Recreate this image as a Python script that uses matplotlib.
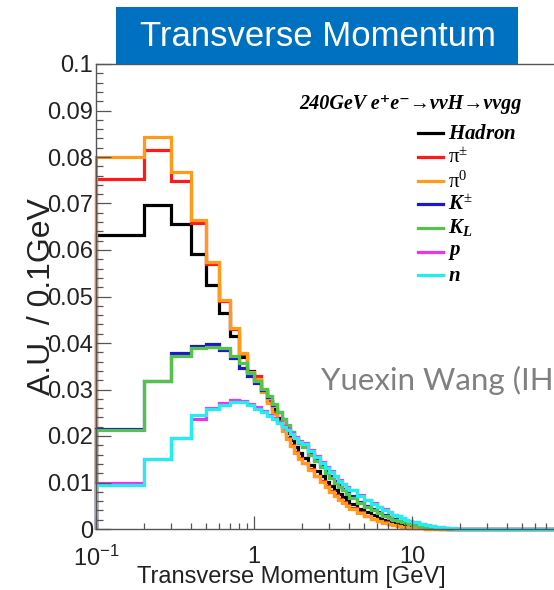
import numpy as np
import matplotlib
matplotlib.use("Agg")
import matplotlib.pyplot as plt
from matplotlib.lines import Line2D
from matplotlib.patches import Rectangle
from matplotlib import ticker

plt.rcParams['mathtext.fontset'] = 'custom'
plt.rcParams['mathtext.rm'] = 'Liberation Serif'
plt.rcParams['mathtext.it'] = 'Liberation Serif:italic:bold'
plt.rcParams['mathtext.bf'] = 'Liberation Serif:bold'
plt.rcParams['mathtext.sf'] = 'Liberation Sans'

# ---------------- data ----------------
bin_edges = np.round(np.concatenate([
    np.arange(0.1, 2.0001, 0.1),
    np.arange(2.2, 4.0001, 0.2),
    np.arange(4.5, 10.0001, 0.5),
    np.arange(11, 20.0001, 1.0),
    np.arange(30, 100.0001, 10.0),
]), 3)

hadron = [0.0633, 0.0696, 0.0655, 0.0592, 0.0525, 0.0464, 0.0414, 0.0370, 0.0340, 0.0318,
          0.0297, 0.0276, 0.0257, 0.0239, 0.0222, 0.0206, 0.0191, 0.0177, 0.0164,
          0.0153, 0.0138, 0.0125, 0.0113, 0.0102, 0.0092, 0.0083, 0.0075, 0.0068, 0.0061,
          0.0054, 0.0044, 0.0036, 0.0030, 0.0024, 0.0020, 0.0016, 0.0013, 0.0011, 0.0009, 0.0007, 0.0006,
          0.0005, 0.0004, 0.0003, 0.0002, 0.0002, 0.0001, 0.0001, 0.00007, 0.00005, 0.00004,
          0.00001, 0, 0, 0, 0, 0, 0, 0]
pi_charged = [0.0753, 0.0814, 0.0748, 0.0659, 0.0570, 0.0490, 0.0430, 0.0376, 0.0338, 0.0330,
              0.0300, 0.0275, 0.0252, 0.0232, 0.0213, 0.0196, 0.0180, 0.0166, 0.0153,
              0.0143, 0.0128, 0.0115, 0.0103, 0.0092, 0.0082, 0.0073, 0.0065, 0.0058, 0.0052,
              0.0045, 0.0036, 0.0028, 0.0022, 0.0018, 0.0014, 0.0011, 0.0009, 0.0007, 0.0005, 0.0004, 0.0003,
              0.0002, 0.0002, 0.0001, 0.0001, 0.0001, 0.00005, 0.00004, 0.00003, 0.00002, 0.00001,
              0, 0, 0, 0, 0, 0, 0, 0]
pi_zero = [0.0799, 0.0842, 0.0767, 0.0664, 0.0574, 0.0493, 0.0432, 0.0378, 0.0337, 0.0322,
           0.0294, 0.0270, 0.0248, 0.0228, 0.0210, 0.0193, 0.0178, 0.0164, 0.0150,
           0.0141, 0.0126, 0.0113, 0.0101, 0.0090, 0.0080, 0.0071, 0.0063, 0.0056, 0.0050,
           0.0043, 0.0034, 0.0027, 0.0021, 0.0017, 0.0013, 0.0010, 0.0008, 0.0006, 0.0005, 0.0004, 0.0003,
           0.0002, 0.0002, 0.0001, 0.0001, 0.0001, 0.00005, 0.00004, 0.00003, 0.00002, 0.00001,
           0, 0, 0, 0, 0, 0, 0, 0]
k_charged = [0.0214, 0.0318, 0.0378, 0.0393, 0.0397, 0.0384, 0.0368, 0.0346, 0.0328, 0.0315,
             0.0299, 0.0283, 0.0267, 0.0251, 0.0236, 0.0222, 0.0209, 0.0196, 0.0184,
             0.0178, 0.0163, 0.0149, 0.0136, 0.0124, 0.0113, 0.0103, 0.0094, 0.0086, 0.0078,
             0.0070, 0.0059, 0.0050, 0.0042, 0.0036, 0.0030, 0.0025, 0.0021, 0.0018, 0.0015, 0.0013, 0.0011,
             0.0009, 0.0007, 0.0005, 0.0004, 0.0003, 0.0002, 0.0002, 0.0001, 0.0001, 0.00008,
             0.00002, 0, 0, 0, 0, 0, 0, 0]
k_long = [0.0212, 0.0318, 0.0372, 0.0389, 0.0391, 0.0390, 0.0371, 0.0356, 0.0335, 0.0318,
          0.0302, 0.0285, 0.0268, 0.0252, 0.0237, 0.0223, 0.0209, 0.0196, 0.0184,
          0.0176, 0.0160, 0.0146, 0.0133, 0.0121, 0.0110, 0.0100, 0.0091, 0.0083, 0.0075,
          0.0067, 0.0056, 0.0047, 0.0040, 0.0034, 0.0028, 0.0024, 0.0020, 0.0017, 0.0014, 0.0012, 0.0010,
          0.0008, 0.0006, 0.0005, 0.0004, 0.0003, 0.0002, 0.0002, 0.0001, 0.0001, 0.00008,
          0.00002, 0, 0, 0, 0, 0, 0, 0]
proton = [0.0098, 0.0150, 0.0195, 0.0236, 0.0261, 0.0270, 0.0278, 0.0275, 0.0269, 0.0262,
          0.0254, 0.0246, 0.0238, 0.0230, 0.0222, 0.0214, 0.0206, 0.0198, 0.0190,
          0.0184, 0.0170, 0.0157, 0.0145, 0.0134, 0.0124, 0.0114, 0.0105, 0.0097, 0.0090,
          0.0084, 0.0073, 0.0063, 0.0055, 0.0048, 0.0042, 0.0036, 0.0031, 0.0027, 0.0023, 0.0020, 0.0017,
          0.0014, 0.0011, 0.0009, 0.0007, 0.0005, 0.0004, 0.0003, 0.0002, 0.0002, 0.0001,
          0.00004, 0.00001, 0, 0, 0, 0, 0, 0]
neutron = [0.0095, 0.0150, 0.0196, 0.0245, 0.0258, 0.0266, 0.0274, 0.0273, 0.0267, 0.0259,
           0.0252, 0.0244, 0.0236, 0.0228, 0.0220, 0.0212, 0.0204, 0.0196, 0.0188,
           0.0182, 0.0168, 0.0155, 0.0143, 0.0132, 0.0122, 0.0113, 0.0104, 0.0096, 0.0089,
           0.0083, 0.0071, 0.0062, 0.0054, 0.0047, 0.0041, 0.0036, 0.0031, 0.0027, 0.0023, 0.0020, 0.0017,
           0.0014, 0.0011, 0.0009, 0.0007, 0.0005, 0.0004, 0.0003, 0.0002, 0.0002, 0.0001,
           0.00004, 0.00001, 0, 0, 0, 0, 0, 0]

series_labels = [r'$Hadron$', r'$\mathrm{\pi}^{\pm}$', r'$\mathrm{\pi}^{0}$',
                 r'$K^{\pm}$', r'$K_{L}$', r'$p$', r'$n$']
series_values = [hadron, pi_charged, pi_zero, k_charged, k_long, proton, neutron]
series_colors = ['#000000', '#ff1a1a', '#ff9a1a', '#1a1acc', '#55c24a', '#ee33ee', '#22eeee']

y_ticks = [0, 0.01, 0.02, 0.03, 0.04, 0.05, 0.06, 0.07, 0.08, 0.09, 0.1]
x_ticks = [0.1, 1, 10]
x_tick_labels = [r'$\mathsf{10^{-1}}$', '1', '10']

# ---------------- figure ----------------
W, H = 554, 590
fig = plt.figure(figsize=(W / 100, H / 100), dpi=100)

def fx(px):
    return px / W

def fy(py):
    return 1 - py / H

ax_left, ax_top, ax_bottom = 96, 64, 529
ax_width = 158 * 3
ax = fig.add_axes([fx(ax_left), fy(ax_bottom), ax_width / W, (ax_bottom - ax_top) / H])

for vals, col in zip(series_values, series_colors):
    ax.stairs(vals, bin_edges, color=col, linewidth=2.3, baseline=0, clip_on=False)

ax.set_xscale('log')
ax.set_xlim(0.1, 100)
ax.set_ylim(0, 0.1)

ax.set_yticks(y_ticks)
ax.yaxis.set_major_formatter(ticker.FuncFormatter(lambda v, p: '%g' % round(v, 4)))
ax.yaxis.set_minor_locator(ticker.MultipleLocator(0.002))
ax.set_xticks(x_ticks)
ax.set_xticklabels(x_tick_labels)
ax.xaxis.set_minor_locator(ticker.LogLocator(base=10, subs=np.arange(2, 10)))
ax.xaxis.set_minor_formatter(ticker.NullFormatter())

spine_col = '#555555'
for s in ax.spines.values():
    s.set_color(spine_col)
    s.set_linewidth(1.0)
ax.spines['right'].set_visible(False)

ax.tick_params(axis='y', which='major', direction='in', length=10.5, width=0.9,
               color=spine_col, labelsize=17, pad=2, right=False)
ax.tick_params(axis='y', which='minor', direction='in', length=5, width=0.9,
               color=spine_col, right=False)
ax.tick_params(axis='x', which='major', direction='in', length=9.5, width=0.9,
               color=spine_col, labelsize=17, pad=12, top=False)
ax.tick_params(axis='x', which='minor', direction='in', length=4.5, width=0.9,
               color=spine_col, top=False)
for lab in ax.get_xticklabels() + ax.get_yticklabels():
    lab.set_family('Liberation Sans')
    lab.set_color('#222222')

# axis titles
fig.text(fx(291), fy(577), 'Transverse Momentum [GeV]', ha='center', va='center',
         fontsize=17, family='Liberation Sans', color='#222222')
fig.text(fx(42), fy(297), 'A.U. / 0.1GeV', ha='center', va='center', rotation=90,
         fontsize=23, family='Liberation Sans', color='#222222')

# title box
fig.add_artist(Rectangle((fx(116), fy(64)), (518 - 116) / W, (64 - 7) / H,
                         transform=fig.transFigure, facecolor='#0070C0',
                         edgecolor='none', zorder=5))
fig.text(fx(318), fy(37), 'Transverse Momentum', ha='center', va='center',
         fontsize=25, family='Liberation Sans', color='white', zorder=6)

# legend
fig.text(fx(410), fy(104), '240GeV e\u207ae\u207b\u2192\u03bd\u03bdH\u2192\u03bd\u03bdgg',
         ha='center', va='center', fontsize=14.5,
         family=['Liberation Serif', 'DejaVu Serif'], weight='bold', style='italic')
row_y = [133, 157, 181, 204, 228, 252, 275]
for lab, col, ry in zip(series_labels, series_colors, row_y):
    fig.add_artist(Line2D([fx(418), fx(443)], [fy(ry), fy(ry)], transform=fig.transFigure,
                          color=col, linewidth=2.3))
    fig.text(fx(448), fy(ry), lab, ha='left', va='center', fontsize=15)

# overlay author text (cut off at the right edge as in the reference)
fig.text(fx(321), fy(380), 'Yuexin Wang (IHEP)', ha='left', va='center',
         fontsize=22.5, family='Lato', color='#808080')

fig.savefig('out.png', dpi=100)
